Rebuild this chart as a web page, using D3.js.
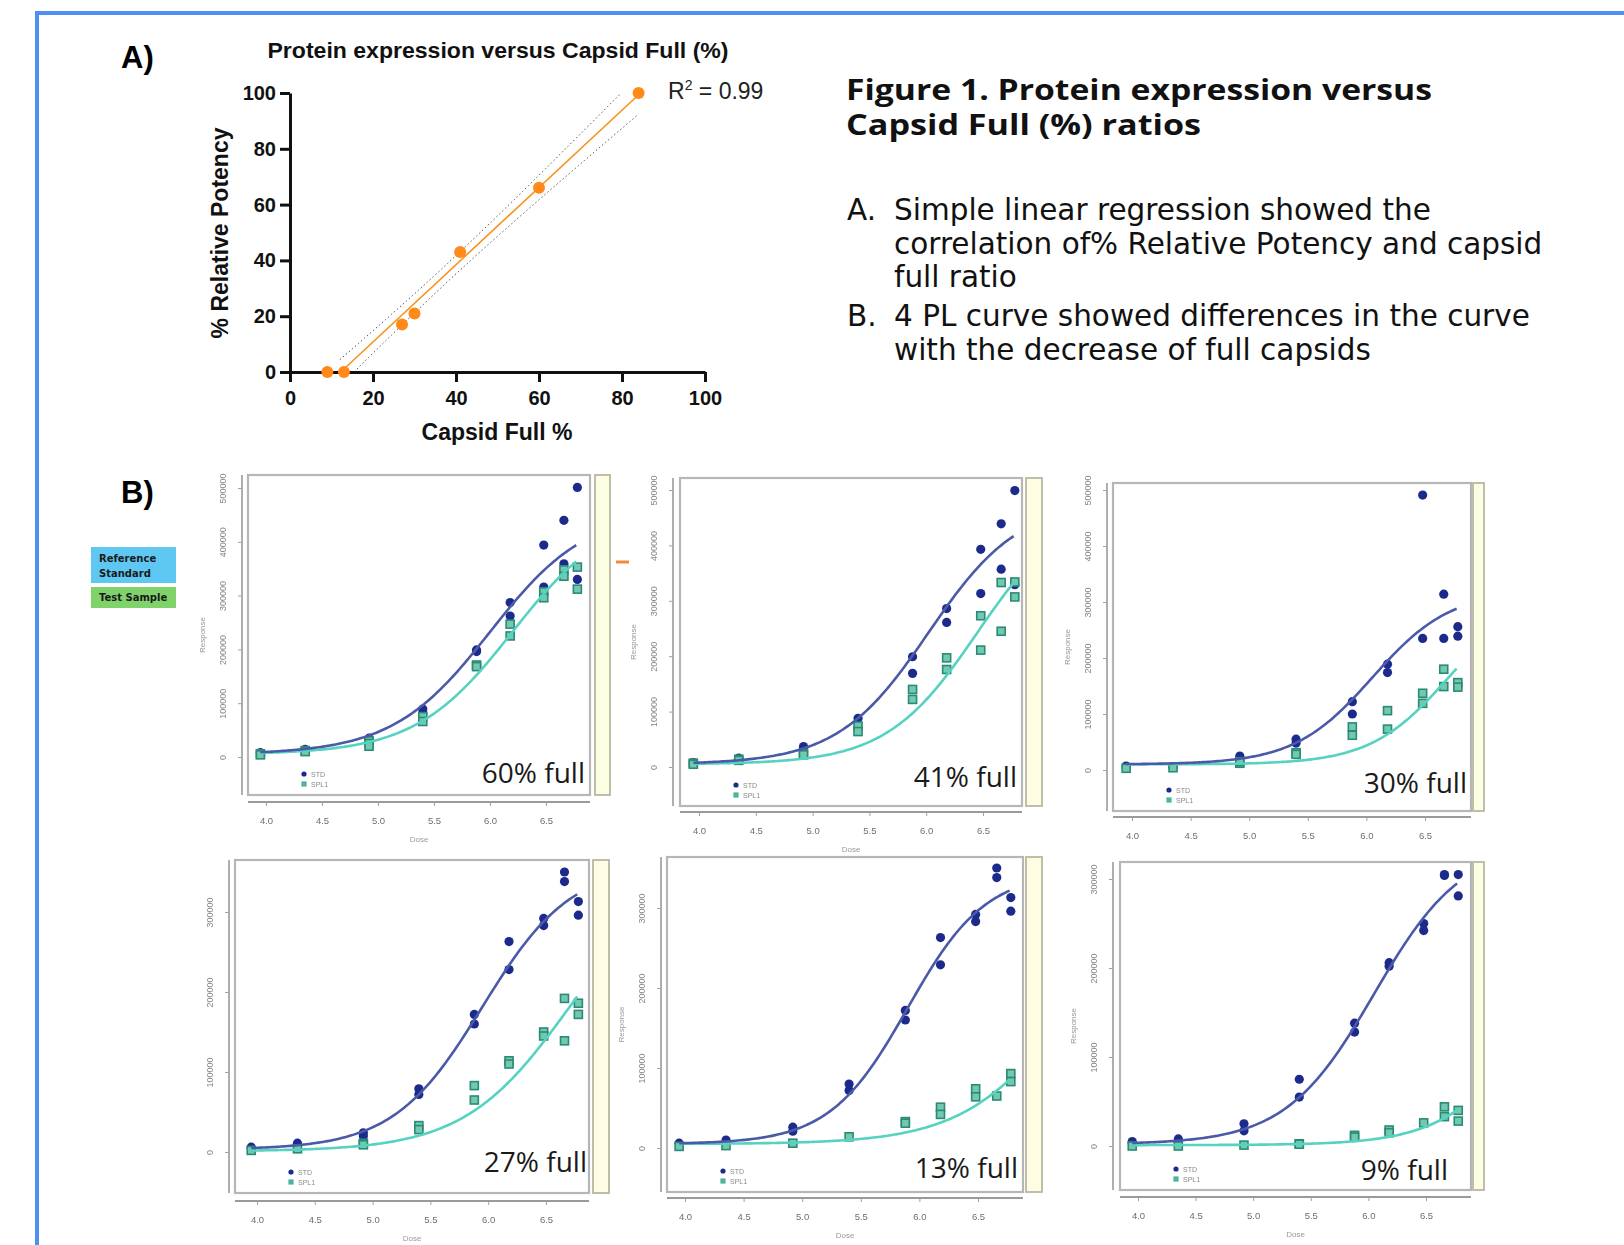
<!DOCTYPE html>
<html>
<head>
<meta charset="utf-8">
<script src="https://cdn.jsdelivr.net/npm/d3@7"></script>
<style>
  body { margin: 0; background: #fff; }
  svg { display: block; }
</style>
</head>
<body>
<script>
// ---------- A) regression data ----------
var capsidFull = [9, 13, 27, 30, 41, 60, 84];
var relPotency = [0, 0, 17, 21, 43, 66, 100];
var axisTicksA = [0, 20, 40, 60, 80, 100];

// ---------- B) 4PL panels ----------
var doses = [3.95, 4.35, 4.92, 5.40, 5.88, 6.18, 6.48, 6.66, 6.78];
var doseTicks = [4.0, 4.5, 5.0, 5.5, 6.0, 6.5];
var responseTicksHigh = [0, 100000, 200000, 300000, 400000, 500000];
var responseTicksLow = [0, 100000, 200000, 300000];
var panelLabels = ["60% full", "41% full", "30% full", "27% full", "13% full", "9% full"];

// replicate responses per dose (STD = reference standard, SPL1 = test sample)
var std60 = [[8000], [14000], [35000, 30000], [89000, 82000], [199000, 196000], [287000, 262000], [394000, 316000], [440000, 359000], [501000, 330000]];
var spl60 = [[6000, 4000], [12000, 10000], [30000, 25000, 20000], [75000, 66000], [171000, 168000], [247000, 225000], [307000, 296000], [348000, 336000], [353000, 312000]];
var std41 = [[8000], [16000], [37000, 33000], [88000], [199000, 169000], [286000, 261000], [393000, 313000], [439000, 357000], [499000, 329000]];
var spl41 = [[7000, 5000], [14000, 12000], [25000, 22000], [74000, 64000], [140000, 122000], [197000, 176000], [273000, 211000], [333000, 245000], [334000, 307000]];
var std30 = [[7000], [5000], [25000, 22000], [55000, 48000], [122000, 100000], [189000, 174000], [491000, 235000], [314000, 235000], [256000, 239000]];
var spl30 = [[3000], [4000], [12000, 15000], [31000, 28000], [77000, 62000], [106000, 73000], [137000, 119000], [180000, 149000], [156000, 148000]];
var std27 = [[6000], [11000], [24000, 20000], [79000, 72000], [172000, 160000], [263000, 228000], [292000, 283000], [350000, 338000], [313000, 296000]];
var spl27 = [[2000], [4000], [11000, 9000], [33000, 28000], [83000, 65000], [114000, 110000], [150000, 145000], [192000, 139000], [186000, 172000]];
var std13 = [[6000], [10000], [26000, 21000], [80000, 72000], [172000, 160000], [263000, 229000], [292000, 283000], [350000, 338000], [313000, 296000]];
var spl13 = [[2000], [3000], [6000], [14000], [33000, 31000], [51000, 42000], [74000, 64000], [65000], [93000, 83000]];
var std9 = [[5000, 3000], [8000, 4000], [25000, 17000], [75000, 55000], [138000, 128000], [206000, 202000], [250000, 242000], [305000, 304000], [305000, 281000]];
var spl9 = [[0], [0], [1000], [2500, 2000], [12000, 10000], [18000, 15000], [26000], [44000, 33000], [40000, 28000]];

// fitted 4PL curves: [bottom, top, mid log-dose, slope]
var fitStd60 = [5000, 460000, 6.0, 2.3],  fitSpl60 = [5000, 460000, 6.2, 2.3];
var fitStd41 = [5000, 480000, 6.02, 2.5], fitSpl41 = [5000, 480000, 6.45, 2.5];
var fitStd30 = [10000, 320000, 6.05, 3],  fitSpl30 = [10000, 320000, 6.7, 3];
var fitStd27 = [3000, 360000, 5.95, 2.6], fitSpl27 = [1000, 360000, 6.7, 2.2];
var fitStd13 = [5000, 345000, 5.9, 3],    fitSpl13 = [5000, 345000, 7.3, 2.2];
var fitStd9  = [2000, 340000, 6.05, 2.6], fitSpl9  = [1000, 340000, 7.55, 2.6];

var arial = "'Liberation Sans', Arial, sans-serif";
var svg = d3.select("body").append("svg")
    .attr("width", 1624).attr("height", 1245)
    .style("font-family", arial);

// soft look of the pasted screenshots
svg.append("defs").append("filter").attr("id", "soft")
    .append("feGaussianBlur").attr("stdDeviation", 0.45);

// blue frame
svg.append("path").attr("d", "M37,1245V13H1624")
    .attr("fill", "none").attr("stroke", "#4d8ff3").attr("stroke-width", 4);

svg.append("text").attr("x", 121).attr("y", 68).attr("font-size", 31)
    .attr("font-weight", "bold").text("A)");
svg.append("text").attr("x", 121).attr("y", 503).attr("font-size", 31)
    .attr("font-weight", "bold").text("B)");

// ================= panel A =================
var xA = d3.scaleLinear().domain([0, 100]).range([290, 705]);
var yA = d3.scaleLinear().domain([0, 100]).range([372, 93]);
var gA = svg.append("g");

gA.append("defs").append("clipPath").attr("id", "clipA").append("rect")
    .attr("x", xA(0)).attr("y", yA(100))
    .attr("width", xA(100) - xA(0)).attr("height", yA(0) - yA(100));

// least squares fit + 95% confidence band
var n = capsidFull.length;
var mx = d3.mean(capsidFull), my = d3.mean(relPotency);
var sxx = d3.sum(capsidFull, function(x) { return (x - mx) * (x - mx); });
var sxy = d3.sum(capsidFull.map(function(x, i) { return (x - mx) * (relPotency[i] - my); }));
var slope = sxy / sxx, icpt = my - slope * mx;
var fitA = function(x) { return icpt + slope * x; };
var ssr = d3.sum(capsidFull.map(function(x, i) { return Math.pow(relPotency[i] - fitA(x), 2); }));
var sst = d3.sum(relPotency, function(y) { return (y - my) * (y - my); });
var se = Math.sqrt(ssr / (n - 2));
var tCrit = 2.571;
var ci = function(x) { return tCrit * se * Math.sqrt(1 / n + (x - mx) * (x - mx) / sxx); };

var lineA = d3.line().x(function(d) { return xA(d[0]); }).y(function(d) { return yA(d[1]); });
var bandX = d3.range(12, 84.01, 0.5);
[1, -1].forEach(function(s) {
    gA.append("path")
        .attr("d", lineA(bandX.map(function(x) { return [x, fitA(x) + s * ci(x)]; })))
        .attr("clip-path", "url(#clipA)")
        .attr("fill", "none").attr("stroke", "#555").attr("stroke-width", 1)
        .attr("stroke-dasharray", "1.5,2.5");
});
gA.append("path")
    .attr("d", lineA([[-icpt / slope, 0], [d3.max(capsidFull), fitA(d3.max(capsidFull))]]))
    .attr("fill", "none").attr("stroke", "#f7931e").attr("stroke-width", 1.6);

function styleAxisA(g) {
    g.attr("font-size", 20).attr("font-family", arial).attr("font-weight", "bold");
    g.select(".domain").attr("stroke", "#111").attr("stroke-width", 3);
    g.selectAll(".tick line").attr("stroke", "#111").attr("stroke-width", 3);
    g.selectAll(".tick text").attr("fill", "#111");
}
gA.append("g").attr("transform", "translate(" + xA(0) + ",0)")
    .call(d3.axisLeft(yA).tickValues(axisTicksA).tickSize(10).tickSizeOuter(0).tickPadding(4))
    .call(styleAxisA);
gA.append("g").attr("transform", "translate(0," + yA(0) + ")")
    .call(d3.axisBottom(xA).tickValues(axisTicksA).tickSize(10).tickSizeOuter(0).tickPadding(9))
    .call(styleAxisA);

gA.selectAll("circle.pt").data(capsidFull).enter().append("circle")
    .attr("class", "pt")
    .attr("cx", function(d) { return xA(d); })
    .attr("cy", function(d, i) { return yA(relPotency[i]); })
    .attr("r", 6).attr("fill", "#ff8a1a");

gA.append("text").attr("x", 498).attr("y", 58).attr("text-anchor", "middle")
    .attr("font-size", 22).attr("font-weight", "bold").attr("textLength", 461)
    .attr("lengthAdjust", "spacingAndGlyphs").attr("fill", "#111")
    .text("Protein expression versus Capsid Full (%)");
gA.append("text").attr("transform", "translate(228,233) rotate(-90)")
    .attr("text-anchor", "middle").attr("font-size", 23).attr("font-weight", "bold")
    .attr("fill", "#111").text("% Relative Potency");
gA.append("text").attr("x", 497).attr("y", 440).attr("text-anchor", "middle")
    .attr("font-size", 23).attr("font-weight", "bold").attr("fill", "#111").text("Capsid Full %");
var r2 = gA.append("text").attr("x", 668).attr("y", 99).attr("font-size", 23).attr("fill", "#222");
r2.append("tspan").text("R");
r2.append("tspan").attr("dy", -9).attr("font-size", 14).text("2");
r2.append("tspan").attr("dy", 9).text(" = " + d3.format(".2f")(1 - ssr / sst));

// ================= caption text =================
var gT = svg.append("g").attr("fill", "#111");
gT.append("text").attr("x", 846).attr("y", 100).attr("font-family", "'Open Sans', sans-serif")
    .attr("font-weight", "bold").attr("font-size", 28)
    .attr("textLength", 586).attr("lengthAdjust", "spacingAndGlyphs")
    .text("Figure 1. Protein expression versus");
gT.append("text").attr("x", 846).attr("y", 135).attr("font-family", "'Open Sans', sans-serif")
    .attr("font-weight", "bold").attr("font-size", 28)
    .attr("textLength", 355).attr("lengthAdjust", "spacingAndGlyphs")
    .text("Capsid Full (%) ratios");

var bodyLines = [
    ["A.", "Simple linear regression showed the", 220],
    ["", "correlation of% Relative Potency and capsid", 254],
    ["", "full ratio", 287],
    ["B.", "4 PL curve showed differences in the curve", 326],
    ["", "with the decrease of full capsids", 360]
];
bodyLines.forEach(function(l) {
    if (l[0]) gT.append("text").attr("x", 847).attr("y", l[2])
        .attr("font-family", "'DejaVu Sans', sans-serif").attr("font-size", 29.5).text(l[0]);
    gT.append("text").attr("x", 894).attr("y", l[2])
        .attr("font-family", "'DejaVu Sans', sans-serif").attr("font-size", 29.5).text(l[1]);
});

// legend boxes on the left
svg.append("rect").attr("x", 91).attr("y", 547).attr("width", 85).attr("height", 36).attr("fill", "#5ec8f2");
svg.append("rect").attr("x", 91).attr("y", 587).attr("width", 85).attr("height", 21).attr("fill", "#7fd36a");
var legT = svg.append("g").attr("font-family", "'DejaVu Sans', sans-serif")
    .attr("font-weight", "bold").attr("font-size", 10).attr("fill", "#1a1a1a");
legT.append("text").attr("x", 99).attr("y", 562).text("Reference");
legT.append("text").attr("x", 99).attr("y", 577).text("Standard");
legT.append("text").attr("x", 99).attr("y", 601).text("Test Sample");

svg.append("line").attr("x1", 616).attr("x2", 629).attr("y1", 562).attr("y2", 562)
    .attr("stroke", "#f08a3c").attr("stroke-width", 3);

// ================= panel B =================
var panels = [
    { box: [248, 475, 590, 795], axisX: 242, axisY: 802, x4: 266, x65: 546, y0: 757, yTop: 488, ticks: responseTicksHigh,
      strip: [595, 475, 610, 795], fullR: 585, fullY: 783, resp: true, dose: true,
      std: std60, spl: spl60, fs: fitStd60, fp: fitSpl60, label: panelLabels[0] },
    { box: [680, 478, 1022, 806], axisX: 673, axisY: 812, x4: 699, x65: 983, y0: 767, yTop: 490, ticks: responseTicksHigh,
      strip: [1026, 478, 1042, 806], fullR: 1017, fullY: 787, resp: true, dose: true,
      std: std41, spl: spl41, fs: fitStd41, fp: fitSpl41, label: panelLabels[1] },
    { box: [1113, 483, 1471, 811], axisX: 1107, axisY: 817, x4: 1132, x65: 1425, y0: 770, yTop: 490, ticks: responseTicksHigh,
      strip: [1473, 483, 1484, 811], fullR: 1467, fullY: 793, resp: true, dose: false,
      std: std30, spl: spl30, fs: fitStd30, fp: fitSpl30, label: panelLabels[2] },
    { box: [235, 860, 589, 1193], axisX: 229, axisY: 1201, x4: 257, x65: 546, y0: 1152, yTop: 912, ticks: responseTicksLow,
      strip: [593, 860, 609, 1193], fullR: 587, fullY: 1172, resp: false, dose: true,
      std: std27, spl: spl27, fs: fitStd27, fp: fitSpl27, label: panelLabels[3] },
    { box: [667, 857, 1023, 1192], axisX: 661, axisY: 1198, x4: 685, x65: 978, y0: 1148, yTop: 908, ticks: responseTicksLow,
      strip: [1026, 857, 1042, 1192], fullR: 1018, fullY: 1178, resp: true, dose: true,
      std: std13, spl: spl13, fs: fitStd13, fp: fitSpl13, label: panelLabels[4] },
    { box: [1120, 862, 1471, 1190], axisX: 1113, axisY: 1197, x4: 1138, x65: 1426, y0: 1146, yTop: 879, ticks: responseTicksLow,
      strip: [1473, 862, 1484, 1190], fullR: 1448, fullY: 1180, resp: true, dose: true,
      std: std9, spl: spl9, fs: fitStd9, fp: fitSpl9, label: panelLabels[5] }
];

function fourPL(d, f) {
    return f[0] + (f[1] - f[0]) / (1 + Math.exp(-f[3] * (d - f[2])));
}

function drawPanel(p) {
    var outer = svg.append("g");
    var g = outer.append("g").attr("filter", "url(#soft)");
    var x = d3.scaleLinear().domain([4.0, 6.5]).range([p.x4, p.x65]);
    var y = d3.scaleLinear().domain([0, d3.max(p.ticks)]).range([p.y0, p.yTop]);
    var bx0 = p.box[0], by0 = p.box[1], bx1 = p.box[2], by1 = p.box[3];

    g.append("rect").attr("x", bx0).attr("y", by0).attr("width", bx1 - bx0).attr("height", by1 - by0)
        .attr("fill", "#fff").attr("stroke", "#b6b6b6").attr("stroke-width", 2.2);
    g.append("rect").attr("x", p.strip[0]).attr("y", p.strip[1])
        .attr("width", p.strip[2] - p.strip[0]).attr("height", p.strip[3] - p.strip[1])
        .attr("fill", "#fdfde4").attr("stroke", "#b8b8a0").attr("stroke-width", 1.8);

    // y axis
    g.append("line").attr("x1", p.axisX).attr("x2", p.axisX).attr("y1", by0).attr("y2", by1)
        .attr("stroke", "#9a9a9a").attr("stroke-width", 1.6);
    var ya = g.append("g").attr("transform", "translate(" + p.axisX + ",0)")
        .call(d3.axisLeft(y).tickValues(p.ticks).tickSize(4).tickSizeOuter(0).tickFormat(d3.format("d")));
    ya.select(".domain").remove();
    ya.selectAll(".tick line").attr("stroke", "#a0a0a0");
    ya.selectAll(".tick text").attr("x", null).attr("dy", null)
        .attr("text-anchor", "middle").attr("transform", "translate(-16,0) rotate(-90)")
        .attr("font-size", 9).attr("fill", "#858585");

    // x axis
    g.append("line").attr("x1", bx0).attr("x2", bx1).attr("y1", p.axisY).attr("y2", p.axisY)
        .attr("stroke", "#9a9a9a").attr("stroke-width", 2);
    var xa = g.append("g").attr("transform", "translate(0," + p.axisY + ")")
        .call(d3.axisBottom(x).tickValues(doseTicks).tickSize(4).tickSizeOuter(0)
            .tickPadding(11).tickFormat(d3.format(".1f")));
    xa.select(".domain").remove();
    xa.selectAll(".tick line").attr("stroke", "#a0a0a0");
    xa.selectAll(".tick text").attr("font-size", 9.5).attr("fill", "#6e6e6e");

    if (p.resp) g.append("text")
        .attr("transform", "translate(" + (p.axisX - 37) + "," + ((by0 + by1) / 2) + ") rotate(-90)")
        .attr("text-anchor", "middle").attr("font-size", 8).attr("fill", "#999").text("Response");
    if (p.dose) g.append("text").attr("x", (bx0 + bx1) / 2).attr("y", p.axisY + 40)
        .attr("text-anchor", "middle").attr("font-size", 8).attr("fill", "#999").text("Dose");

    // points
    var stdPts = [], splPts = [];
    doses.forEach(function(d, i) {
        p.std[i].forEach(function(v) { stdPts.push([d, v]); });
        p.spl[i].forEach(function(v) { splPts.push([d, v]); });
    });
    g.selectAll("circle.std").data(stdPts).enter().append("circle").attr("class", "std")
        .attr("cx", function(d) { return x(d[0]); }).attr("cy", function(d) { return y(d[1]); })
        .attr("r", 4.6).attr("fill", "#1d2c8c");
    g.selectAll("rect.spl").data(splPts).enter().append("rect").attr("class", "spl")
        .attr("x", function(d) { return x(d[0]) - 4; }).attr("y", function(d) { return y(d[1]) - 4; })
        .attr("width", 8).attr("height", 8)
        .attr("fill", "#72c9b1").attr("stroke", "#2b8a74").attr("stroke-width", 1.6);

    // fitted curves
    var grid = d3.range(doses[0], doses[doses.length - 1] + 0.001, 0.02);
    var curve = d3.line().x(function(d) { return x(d); });
    g.append("path").attr("d", curve.y(function(d) { return y(fourPL(d, p.fp)); })(grid))
        .attr("fill", "none").attr("stroke", "#56d2c0").attr("stroke-width", 2.6);
    g.append("path").attr("d", curve.y(function(d) { return y(fourPL(d, p.fs)); })(grid))
        .attr("fill", "none").attr("stroke", "#4b5aa8").attr("stroke-width", 2.6);

    // small legend
    var lx = bx0 + 56, ly = by1 - 21;
    g.append("circle").attr("cx", lx).attr("cy", ly).attr("r", 2.6).attr("fill", "#1d2c8c");
    g.append("rect").attr("x", lx - 2.6).attr("y", ly + 7.4).attr("width", 5.2).attr("height", 5.2).attr("fill", "#4bb59c");
    g.append("text").attr("x", lx + 7).attr("y", ly + 2.5).attr("font-size", 7).attr("fill", "#888").text("STD");
    g.append("text").attr("x", lx + 7).attr("y", ly + 12.5).attr("font-size", 7).attr("fill", "#888").text("SPL1");

    // overlaid label (crisp)
    outer.append("text").attr("x", p.fullR).attr("y", p.fullY).attr("text-anchor", "end")
        .attr("font-family", "'Open Sans', sans-serif").attr("font-size", 28).attr("fill", "#1a1a1a")
        .text(p.label);
}

panels.forEach(drawPanel);
</script>
</body>
</html>
